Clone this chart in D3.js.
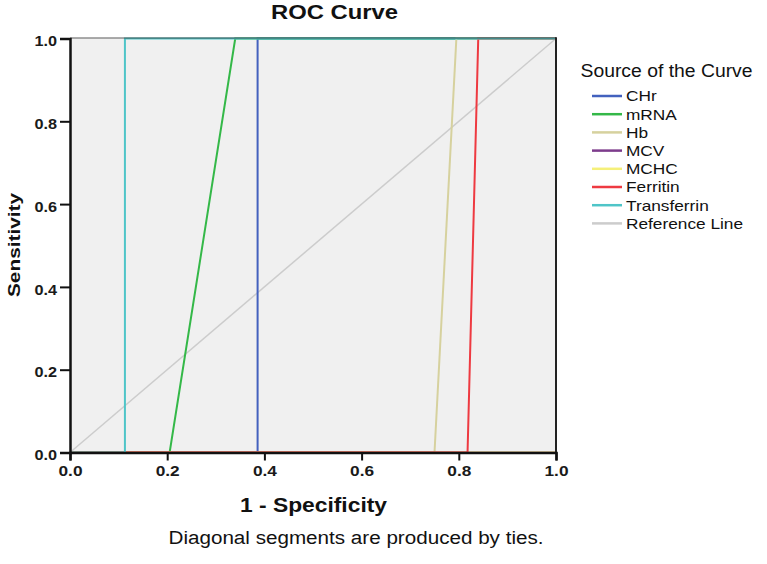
<!DOCTYPE html>
<html>
<head>
<meta charset="utf-8">
<script src="https://cdn.jsdelivr.net/npm/d3@7"></script>
<style>
  html, body { margin: 0; padding: 0; background: #fff; }
  svg { display: block; font-family: "Liberation Sans", Arial, sans-serif; }
</style>
</head>
<body>
<svg id="chart" width="767" height="564"></svg>
<script>
// ---- data ----
const curveNames = ["CHr", "mRNA", "Hb", "MCV", "MCHC", "Ferritin", "Transferrin"];
const curveColors = ["#4361BE", "#34B848", "#D6D19E", "#7D3C8C", "#F5F07A", "#EE3A41", "#4FC5C8"];
// 1 - specificity (x) and sensitivity (y) points for each curve
const fprCHr = [0, 0.386, 0.386, 1];
const fprMRNA = [0, 0.205, 0.340, 1];
const fprHb = [0, 0.750, 0.795, 1];
const fprMCV = [0, 1, 1, 1];
const fprMCHC = [0, 1, 1, 1];
const fprFerritin = [0, 0.818, 0.840, 1];
const fprTransferrin = [0, 0.113, 0.113, 1];
const tprAll = [0, 0, 1, 1];
const fprSeries = [fprCHr, fprMRNA, fprHb, fprMCV, fprMCHC, fprFerritin, fprTransferrin];
const referenceLine = [[0, 0], [1, 1]];
const tickValues = [0, 0.2, 0.4, 0.6, 0.8, 1.0];

// ---- layout ----
const svg = d3.select("#chart");
const pLeft = 70, pRight = 556, pTop = 38.5, pBottom = 452.5;
const x = d3.scaleLinear().domain([0, 1]).range([pLeft, pRight]);
const y = d3.scaleLinear().domain([0, 1]).range([pBottom, pTop]);

// stretch text horizontally (the source rendering is wide-set)
function stretch(sel, factor) {
  sel.each(function () {
    const w = this.getComputedTextLength();
    d3.select(this).attr("textLength", w * factor).attr("lengthAdjust", "spacingAndGlyphs");
  });
}

// plot background
svg.append("rect")
  .attr("x", x(0)).attr("y", y(1))
  .attr("width", x(1) - x(0)).attr("height", y(0) - y(1))
  .attr("fill", "#F0F0F0");

const line = d3.line().x(d => x(d[0])).y(d => y(d[1]));

// reference line
svg.append("path")
  .attr("d", line(referenceLine))
  .attr("fill", "none").attr("stroke", "#CCCCCC").attr("stroke-width", 1.5);

// ROC curves
curveNames.forEach((name, i) => {
  const pts = fprSeries[i].map((v, j) => [v, tprAll[j]]);
  svg.append("path")
    .attr("d", line(pts))
    .attr("fill", "none")
    .attr("stroke", curveColors[i])
    .attr("stroke-width", 2);
});

// frame: top (semi-transparent so curves on the edge tint it), right (solid)
svg.append("line")
  .attr("x1", x(0)).attr("x2", x(1)).attr("y1", y(1) - 0.5).attr("y2", y(1) - 0.5)
  .attr("stroke", "#333").attr("stroke-opacity", 0.55).attr("stroke-width", 1.5);
svg.append("line")
  .attr("x1", x(1)).attr("x2", x(1)).attr("y1", y(1) - 1.2).attr("y2", y(0))
  .attr("stroke", "#222").attr("stroke-width", 2);

// axes
const xAxis = d3.axisBottom(x).tickValues(tickValues).tickFormat(d3.format(".1f")).tickSize(8);
const yAxis = d3.axisLeft(y).tickValues(tickValues).tickFormat(d3.format(".1f")).tickSize(10);

const gx = svg.append("g").attr("transform", `translate(0,${y(0)})`).call(xAxis);
const gy = svg.append("g").attr("transform", `translate(${x(0)},0)`).call(yAxis);
[gx, gy].forEach(g => {
  g.select(".domain").attr("stroke", "#111").attr("stroke-width", 2.5);
  g.selectAll(".tick line").attr("stroke", "#111").attr("stroke-width", 2);
  g.selectAll(".tick text")
    .attr("fill", "#1a1a1a")
    .style("font-family", "'Liberation Sans', Arial, sans-serif")
    .style("font-weight", "bold");
});
gx.selectAll(".tick text").style("font-size", "15px").attr("dy", "0").attr("y", 23);
gy.selectAll(".tick text").style("font-size", "14.5px").attr("x", -13).attr("dy", "0.5em");
stretch(gx.selectAll(".tick text"), 1.15);
stretch(gy.selectAll(".tick text"), 1.12);

// title
const title = svg.append("text")
  .attr("x", 271).attr("y", 19)
  .style("font-size", "20px").style("font-weight", "bold")
  .attr("fill", "#111")
  .text("ROC Curve");
title.attr("textLength", 127).attr("lengthAdjust", "spacingAndGlyphs");

// axis titles
svg.append("text")
  .attr("x", 240).attr("y", 511.5)
  .style("font-size", "20.5px").style("font-weight", "bold")
  .attr("fill", "#111")
  .attr("textLength", 147).attr("lengthAdjust", "spacingAndGlyphs")
  .text("1 - Specificity");

svg.append("text")
  .attr("transform", "translate(20,245) rotate(-90)")
  .attr("text-anchor", "middle")
  .style("font-size", "17px").style("font-weight", "bold")
  .attr("fill", "#111")
  .attr("textLength", 104).attr("lengthAdjust", "spacingAndGlyphs")
  .text("Sensitivity");

// footnote
svg.append("text")
  .attr("x", 168.5).attr("y", 544)
  .style("font-size", "18px")
  .attr("fill", "#111")
  .attr("textLength", 375).attr("lengthAdjust", "spacingAndGlyphs")
  .text("Diagonal segments are produced by ties.");

// legend
const legendNames = curveNames.concat(["Reference Line"]);
const legendColors = curveColors.concat(["#CCCCCC"]);
svg.append("text")
  .attr("x", 580.5).attr("y", 77)
  .style("font-size", "17.5px")
  .attr("fill", "#111")
  .attr("textLength", 172).attr("lengthAdjust", "spacingAndGlyphs")
  .text("Source of the Curve");

const lg = svg.append("g");
legendNames.forEach((name, i) => {
  const yy = 96 + i * 18.2;
  lg.append("line")
    .attr("x1", 592).attr("x2", 622).attr("y1", yy).attr("y2", yy)
    .attr("stroke", legendColors[i]).attr("stroke-width", 2.5);
  lg.append("text")
    .attr("class", "legtext")
    .attr("x", 626).attr("y", yy).attr("dy", "0.37em")
    .style("font-size", "14.5px")
    .attr("fill", "#111")
    .text(name);
});
stretch(lg.selectAll(".legtext"), 1.19);
</script>
</body>
</html>
